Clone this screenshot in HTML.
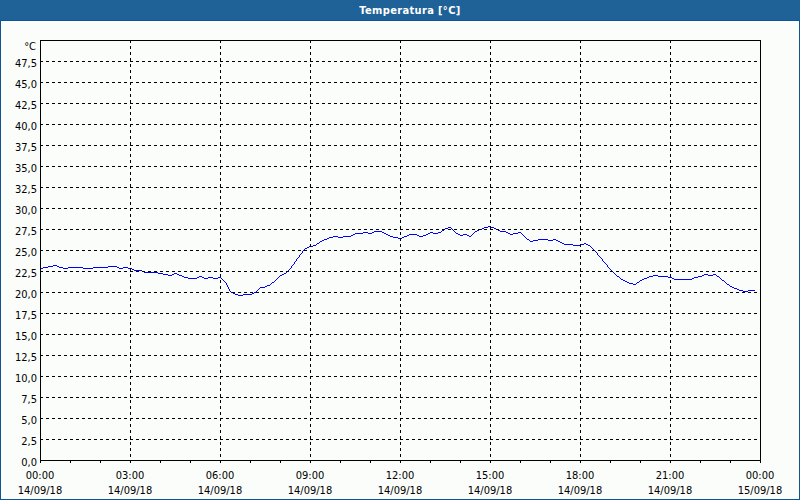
<!DOCTYPE html>
<html><head><meta charset="utf-8"><title>Temperatura</title>
<style>
html,body{margin:0;padding:0;}
body{width:800px;height:500px;position:relative;overflow:hidden;background:#fbfdfb;font-family:"DejaVu Sans Condensed", "DejaVu Sans", "Liberation Sans", sans-serif;font-size:11px;color:#000;}
.hdr{position:absolute;left:0;top:0;width:800px;height:20px;color:#fff;font-weight:bold;text-align:center;line-height:20px;letter-spacing:0.35px;}
.hdr span{position:relative;left:10px;top:1px;}
.bl{position:absolute;left:0;top:20px;width:1px;height:480px;background:#0e5490;}
.br{position:absolute;right:0;top:20px;width:1px;height:480px;background:#0e5490;}
.bb{position:absolute;left:0;bottom:0;width:800px;height:1px;background:#0e5490;}
.bt{position:absolute;left:0;top:20px;width:800px;height:1px;background:#0e5490;}
.iw{position:absolute;left:1px;top:21px;width:796px;height:476px;border:1px solid #fff;}
svg{position:absolute;left:0;top:0;}
.yl{position:absolute;left:0;width:37px;text-align:right;line-height:13px;white-space:nowrap;}
.xl{position:absolute;width:80px;text-align:center;line-height:13px;white-space:nowrap;}
</style></head><body>
<svg width="800" height="20" style="position:absolute;left:0;top:0"><defs><pattern id="dp" width="8" height="20" patternUnits="userSpaceOnUse"><rect width="8" height="20" fill="#1e6194"/><path d="M0 0h1v1h-1zM4 1h1v1h-1zM2 2h1v1h-1zM7 2h1v1h-1zM3 4h1v1h-1zM0 5h1v1h-1zM5 5h1v1h-1zM3 7h1v1h-1zM7 8h1v1h-1zM1 9h1v1h-1zM5 9h1v1h-1zM0 11h1v1h-1zM4 11h1v1h-1zM2 13h1v1h-1zM6 13h1v1h-1zM1 15h1v1h-1zM5 15h1v1h-1zM0 17h1v1h-1zM4 17h1v1h-1zM2 19h1v1h-1zM6 19h1v1h-1z" fill="#2161aa"/></pattern></defs><rect width="800" height="20" fill="url(#dp)" shape-rendering="crispEdges"/></svg>
<div class="hdr"><span>Temperatura [°C]</span></div>
<div class="bt"></div><div class="bl"></div><div class="br"></div><div class="bb"></div>
<div class="iw"></div>
<svg width="800" height="500" viewBox="0 0 800 500" shape-rendering="crispEdges">
<path d="M40 268h3v1h-3zM43 267h5v1h-5zM48 266h5v1h-5zM53 265h4v1h-4zM57 266h2v1h-2zM59 267h4v1h-4zM63 268h5v1h-5zM68 267h15v1h-15zM83 268h10v1h-10zM93 267h15v1h-15zM108 266h9v1h-9zM117 267h2v1h-2zM119 268h4v1h-4zM123 267h5v1h-5zM128 268h4v1h-4zM132 269h2v1h-2zM134 270h8v1h-8zM142 271h2v1h-2zM144 272h14v1h-14zM158 273h5v1h-5zM163 274h5v1h-5zM168 275h4v1h-4zM172 274h2v1h-2zM174 273h3v1h-3zM177 274h2v1h-2zM179 275h3v1h-3zM182 276h2v1h-2zM184 277h4v1h-4zM188 278h9v1h-9zM197 277h2v1h-2zM199 276h3v1h-3zM202 277h2v1h-2zM204 278h4v1h-4zM208 277h5v1h-5zM213 278h5v1h-5zM218 277h3v1h-3zM221 278h1v1h-1zM222 279h1v1h-1zM223 280h1v1h-1zM224 281h1v1h-1zM225 282h1v1h-1zM226 283h1v2h-1zM227 285h1v2h-1zM228 287h1v2h-1zM229 289h1v2h-1zM230 291h1v1h-1zM231 292h2v1h-2zM233 293h2v1h-2zM235 294h3v1h-3zM238 295h5v1h-5zM243 294h9v1h-9zM252 293h2v1h-2zM254 292h2v1h-2zM256 291h1v1h-1zM257 290h1v1h-1zM258 289h1v1h-1zM259 288h1v1h-1zM260 287h5v1h-5zM265 286h2v1h-2zM267 285h3v1h-3zM270 284h1v1h-1zM271 283h1v1h-1zM272 282h2v1h-2zM274 281h1v1h-1zM275 280h1v1h-1zM276 279h1v1h-1zM277 278h1v1h-1zM278 277h1v1h-1zM279 276h1v1h-1zM280 275h2v1h-2zM282 274h2v1h-2zM284 273h2v1h-2zM286 272h1v1h-1zM287 271h1v1h-1zM288 270h1v1h-1zM289 269h1v1h-1zM290 268h1v1h-1zM291 266h1v2h-1zM292 265h1v1h-1zM293 264h1v1h-1zM294 262h1v2h-1zM295 261h1v1h-1zM296 259h1v2h-1zM297 258h1v1h-1zM298 257h1v1h-1zM299 255h1v2h-1zM300 254h1v1h-1zM301 253h1v1h-1zM302 251h1v2h-1zM303 250h1v1h-1zM304 249h1v1h-1zM305 248h2v1h-2zM307 247h2v1h-2zM309 246h4v1h-4zM313 245h3v1h-3zM316 244h1v1h-1zM317 243h2v1h-2zM319 242h1v1h-1zM320 241h2v1h-2zM322 240h2v1h-2zM324 239h3v1h-3zM327 238h2v1h-2zM329 237h4v1h-4zM333 236h5v1h-5zM338 237h5v1h-5zM343 236h8v1h-8zM351 235h2v1h-2zM353 234h2v1h-2zM355 233h8v1h-8zM363 232h5v1h-5zM368 233h4v1h-4zM372 232h2v1h-2zM374 231h8v1h-8zM382 232h2v1h-2zM384 233h2v1h-2zM386 234h2v1h-2zM388 235h2v1h-2zM390 236h3v1h-3zM393 237h5v1h-5zM398 238h4v1h-4zM402 237h2v1h-2zM404 236h3v1h-3zM407 235h2v1h-2zM409 234h8v1h-8zM417 235h2v1h-2zM419 236h4v1h-4zM423 235h3v1h-3zM426 234h2v1h-2zM428 233h2v1h-2zM430 232h3v1h-3zM433 233h5v1h-5zM438 232h3v1h-3zM441 231h1v1h-1zM442 230h2v1h-2zM444 229h1v1h-1zM445 228h3v1h-3zM448 227h3v1h-3zM451 228h1v1h-1zM452 229h1v1h-1zM453 230h1v1h-1zM454 231h1v1h-1zM455 232h1v1h-1zM456 233h2v1h-2zM458 234h2v1h-2zM460 235h3v1h-3zM463 234h4v1h-4zM467 235h2v1h-2zM469 236h2v1h-2zM471 235h1v1h-1zM472 234h1v1h-1zM473 233h1v1h-1zM474 232h1v1h-1zM475 231h2v1h-2zM477 230h2v1h-2zM479 229h3v1h-3zM482 228h2v1h-2zM484 227h4v1h-4zM488 226h3v1h-3zM491 227h3v1h-3zM494 228h2v1h-2zM496 229h2v1h-2zM498 230h2v1h-2zM500 231h6v1h-6zM506 232h2v1h-2zM508 233h2v1h-2zM510 234h3v1h-3zM513 233h5v1h-5zM518 232h3v1h-3zM521 233h1v1h-1zM522 234h1v1h-1zM523 235h1v1h-1zM524 236h1v1h-1zM525 237h1v1h-1zM526 238h1v1h-1zM527 239h2v1h-2zM529 240h1v1h-1zM530 241h3v1h-3zM533 240h5v1h-5zM538 239h10v1h-10zM548 240h5v1h-5zM553 239h3v1h-3zM556 240h2v1h-2zM558 241h2v1h-2zM560 242h2v1h-2zM562 243h2v1h-2zM564 244h9v1h-9zM573 245h8v1h-8zM581 244h3v1h-3zM584 243h2v1h-2zM586 244h2v1h-2zM588 245h2v1h-2zM590 246h1v1h-1zM591 247h1v1h-1zM592 248h1v1h-1zM593 249h1v1h-1zM594 250h1v1h-1zM595 251h1v1h-1zM596 252h1v1h-1zM597 253h1v2h-1zM598 255h1v1h-1zM599 256h1v1h-1zM600 257h1v1h-1zM601 258h1v1h-1zM602 259h1v2h-1zM603 261h1v1h-1zM604 262h1v1h-1zM605 263h1v1h-1zM606 264h1v1h-1zM607 265h1v2h-1zM608 267h1v1h-1zM609 268h1v1h-1zM610 269h1v1h-1zM611 270h1v1h-1zM612 271h1v1h-1zM613 272h1v1h-1zM614 273h1v1h-1zM615 274h1v1h-1zM616 275h1v1h-1zM617 276h2v1h-2zM619 277h1v1h-1zM620 278h1v1h-1zM621 279h2v1h-2zM623 280h2v1h-2zM625 281h2v1h-2zM627 282h2v1h-2zM629 283h4v1h-4zM633 284h3v1h-3zM636 283h1v1h-1zM637 282h2v1h-2zM639 281h1v1h-1zM640 280h2v1h-2zM642 279h2v1h-2zM644 278h3v1h-3zM647 277h2v1h-2zM649 276h4v1h-4zM653 275h5v1h-5zM658 276h10v1h-10zM668 277h4v1h-4zM672 278h2v1h-2zM674 279h18v1h-18zM692 278h2v1h-2zM694 277h4v1h-4zM698 276h4v1h-4zM702 275h2v1h-2zM704 274h4v1h-4zM708 275h5v1h-5zM713 274h3v1h-3zM716 275h1v1h-1zM717 276h2v1h-2zM719 277h1v1h-1zM720 278h1v1h-1zM721 279h1v1h-1zM722 280h2v1h-2zM724 281h1v1h-1zM725 282h1v1h-1zM726 283h1v1h-1zM727 284h2v1h-2zM729 285h1v1h-1zM730 286h2v1h-2zM732 287h2v1h-2zM734 288h3v1h-3zM737 289h2v1h-2zM739 290h4v1h-4zM743 291h5v1h-5zM748 290h7v1h-7z" fill="#0000ff"/>
<path d="M40 439.5H760M40 418.5H760M40 397.5H760M40 376.5H760M40 355.5H760M40 334.5H760M40 313.5H760M40 292.5H760M40 271.5H760M40 250.5H760M40 229.5H760M40 208.5H760M40 187.5H760M40 166.5H760M40 145.5H760M40 124.5H760M40 103.5H760M40 82.5H760M40 61.5H760M130.5 40V460M220.5 40V460M310.5 40V460M400.5 40V460M490.5 40V460M580.5 40V460M670.5 40V460" stroke="#000" stroke-width="1" stroke-dasharray="3 3" fill="none"/>
<path d="M40.5 40V461M760.5 40V461M40 40.5H761M40 460.5H761" stroke="#000" fill="none"/>
<path d="M40.5 461v2M70.5 461v2M100.5 461v2M130.5 461v2M160.5 461v2M190.5 461v2M220.5 461v2M250.5 461v2M280.5 461v2M310.5 461v2M340.5 461v2M370.5 461v2M400.5 461v2M430.5 461v2M460.5 461v2M490.5 461v2M520.5 461v2M550.5 461v2M580.5 461v2M610.5 461v2M640.5 461v2M670.5 461v2M700.5 461v2M730.5 461v2M760.5 461v2" stroke="#000" fill="none"/>
</svg>
<div class="yl" style="top:40px;width:36px">°C</div>
<div class="yl" style="top:57px">47,5</div><div class="yl" style="top:78px">45,0</div><div class="yl" style="top:99px">42,5</div><div class="yl" style="top:120px">40,0</div><div class="yl" style="top:141px">37,5</div><div class="yl" style="top:162px">35,0</div><div class="yl" style="top:183px">32,5</div><div class="yl" style="top:204px">30,0</div><div class="yl" style="top:225px">27,5</div><div class="yl" style="top:246px">25,0</div><div class="yl" style="top:267px">22,5</div><div class="yl" style="top:288px">20,0</div><div class="yl" style="top:309px">17,5</div><div class="yl" style="top:330px">15,0</div><div class="yl" style="top:351px">12,5</div><div class="yl" style="top:372px">10,0</div><div class="yl" style="top:393px">7,5</div><div class="yl" style="top:414px">5,0</div><div class="yl" style="top:435px">2,5</div><div class="yl" style="top:456px">0,0</div>
<div class="xl" style="left:0px;top:469px">00:00</div><div class="xl" style="left:0px;top:484px">14/09/18</div><div class="xl" style="left:90px;top:469px">03:00</div><div class="xl" style="left:90px;top:484px">14/09/18</div><div class="xl" style="left:180px;top:469px">06:00</div><div class="xl" style="left:180px;top:484px">14/09/18</div><div class="xl" style="left:270px;top:469px">09:00</div><div class="xl" style="left:270px;top:484px">14/09/18</div><div class="xl" style="left:360px;top:469px">12:00</div><div class="xl" style="left:360px;top:484px">14/09/18</div><div class="xl" style="left:450px;top:469px">15:00</div><div class="xl" style="left:450px;top:484px">14/09/18</div><div class="xl" style="left:540px;top:469px">18:00</div><div class="xl" style="left:540px;top:484px">14/09/18</div><div class="xl" style="left:630px;top:469px">21:00</div><div class="xl" style="left:630px;top:484px">14/09/18</div><div class="xl" style="left:720px;top:469px">00:00</div><div class="xl" style="left:720px;top:484px">15/09/18</div>
</body></html>
